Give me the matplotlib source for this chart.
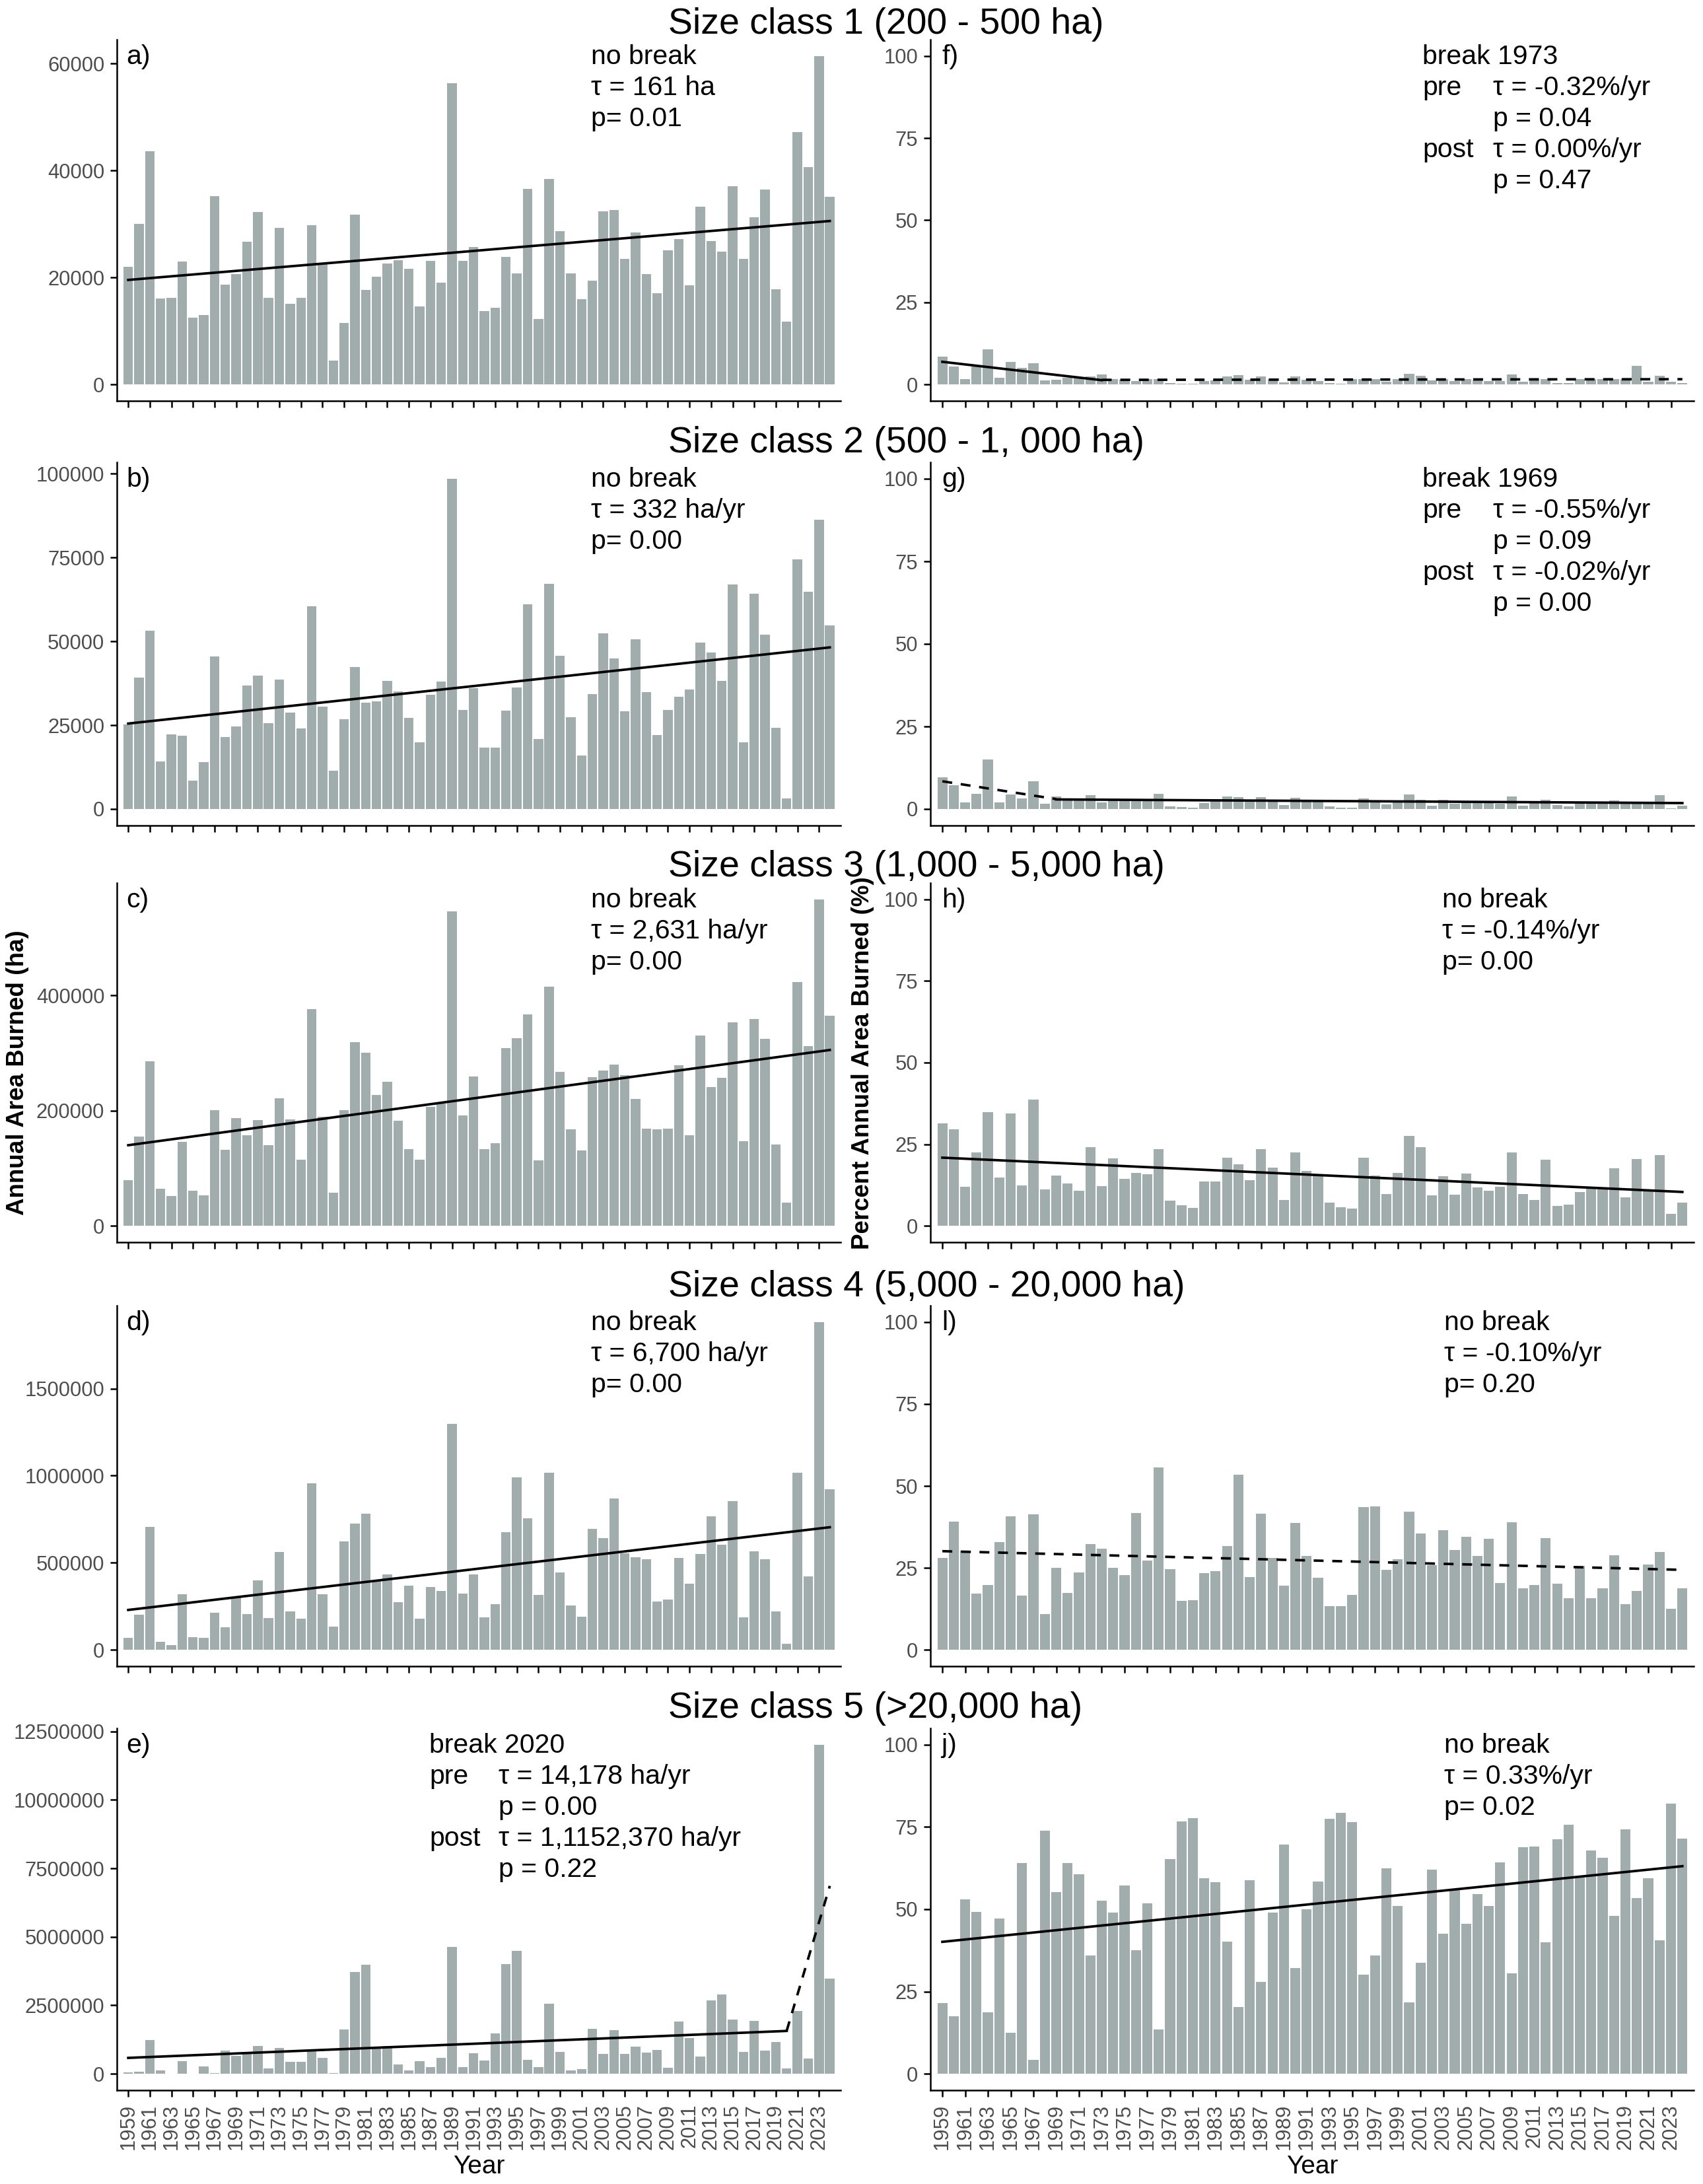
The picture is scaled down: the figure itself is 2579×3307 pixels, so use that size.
import matplotlib
matplotlib.use("Agg")
import matplotlib.pyplot as plt

plt.rcParams["font.family"] = ["Liberation Sans", "DejaVu Sans"]

W, H = 2579, 3307

years = list(range(1959, 2025))
tick_years = list(range(1959, 2024, 2))

# annual area burned (ha), one list per size class, 1959-2024
area_sc1 = [22000, 30000, 43600, 16100, 16200, 23000, 12500, 13000, 35200, 18600,
            20600, 26700, 32200, 16200, 29300, 15100, 16200, 29800, 22500, 4500,
            11500, 31700, 17700, 20200, 22600, 23200, 21600, 14600, 23100, 19000,
            56300, 23100, 25700, 13700, 14400, 23800, 20700, 36600, 12200, 38400,
            28700, 20700, 15900, 19400, 32400, 32600, 23500, 28400, 20600, 17000,
            25100, 27200, 18500, 33200, 26800, 24800, 37000, 23500, 31300, 36400,
            17800, 11800, 47200, 40700, 61400, 35100]
area_sc2 = [25200, 39300, 53200, 14100, 22200, 21800, 8400, 13900, 45500, 21400,
            24700, 36900, 39800, 25600, 38600, 28800, 24000, 60500, 30500, 11500,
            26800, 42300, 31700, 32200, 38200, 35100, 27200, 19900, 34000, 38100,
            98500, 29600, 36000, 18300, 18300, 29400, 36300, 61000, 20800, 67100,
            45700, 27400, 15900, 34300, 52400, 45000, 29100, 50700, 34800, 22000,
            29500, 33500, 35600, 49700, 46600, 38300, 66900, 19800, 64300, 52100,
            24300, 3200, 74500, 64900, 86300, 54700]
area_sc3 = [79300, 155400, 285600, 64900, 51300, 146100, 61600, 52700, 201100, 132100,
            187100, 157700, 183400, 140500, 221700, 184300, 115300, 376600, 189000, 57400,
            201100, 318300, 300500, 227300, 250600, 182000, 133000, 115300, 206700, 212000,
            545100, 191300, 259000, 133500, 143300, 308000, 325300, 367300, 113400, 415400,
            267400, 167100, 130700, 257600, 269700, 279500, 262000, 219800, 168500, 168000,
            168500, 279100, 157700, 330000, 240800, 257100, 352800, 147500, 359400, 324400,
            141400, 40100, 423300, 312200, 566600, 364500]
area_sc4 = [68000, 203000, 705000, 46500, 26000, 319000, 71000, 68000, 214000, 129000,
            302000, 206000, 400000, 183000, 560000, 220000, 178000, 955000, 319000, 135000,
            623000, 724000, 783000, 400000, 434000, 274000, 370000, 178000, 360000, 338000,
            1299000, 324000, 434000, 186000, 262000, 676000, 989000, 755000, 315000, 1015000,
            446000, 254000, 192000, 693000, 642000, 870000, 553000, 530000, 522000, 279000,
            287000, 527000, 378000, 550000, 767000, 604000, 852000, 186000, 567000, 522000,
            220000, 34000, 1018000, 422000, 1882000, 921000]
area_sc5 = [40000, 70000, 1232000, 130000, 10000, 450000, 10000, 260000, 20000, 853000,
            652000, 780000, 1019000, 190000, 936000, 427000, 427000, 830000, 581000, 20000,
            1623000, 3708000, 3993000, 950000, 1019000, 332000, 130000, 450000, 237000, 569000,
            4632000, 249000, 746000, 486000, 1481000, 4016000, 4490000, 509000, 249000, 2559000,
            806000, 130000, 178000, 1647000, 735000, 1588000, 723000, 995000, 782000, 865000,
            213000, 1908000, 1315000, 628000, 2690000, 2891000, 1979000, 794000, 1943000, 853000,
            1149000, 190000, 2299000, 557000, 12014000, 3483000]

# percent of annual area burned (%)
pct_sc1 = [8.4, 5.5, 1.6, 5.5, 10.7, 2.0, 6.8, 5.1, 6.5, 1.3,
           1.5, 2.0, 2.0, 2.5, 3.0, 1.6, 1.4, 1.0, 1.6, 1.6,
           0.5, 0.3, 0.2, 1.0, 1.2, 2.4, 2.8, 1.4, 2.4, 1.6,
           0.7, 2.5, 1.4, 1.1, 0.5, 0.3, 1.6, 1.6, 1.6, 0.8,
           1.6, 3.2, 2.6, 1.3, 1.6, 1.0, 1.6, 1.3, 1.0, 1.0,
           3.0, 0.9, 1.6, 1.6, 0.5, 0.4, 1.6, 1.6, 1.6, 1.6,
           1.6, 5.7, 0.8, 2.6, 0.9, 0.4]
pct_sc2 = [9.7, 7.3, 2.0, 4.7, 15.1, 2.0, 4.5, 3.3, 8.4, 1.7,
           3.9, 3.0, 2.8, 4.2, 2.0, 2.8, 2.6, 2.6, 2.6, 4.6,
           0.8, 0.7, 0.4, 1.8, 2.4, 3.9, 3.7, 2.4, 3.7, 2.8,
           1.2, 3.4, 2.4, 2.2, 0.8, 0.4, 0.5, 3.2, 2.6, 1.5,
           2.4, 4.4, 2.8, 1.1, 2.8, 1.6, 2.2, 2.4, 2.2, 1.6,
           3.9, 1.0, 1.8, 2.9, 1.2, 0.9, 1.8, 1.8, 1.8, 2.7,
           1.8, 1.6, 1.8, 4.3, 0.3, 1.0]
pct_sc3 = [31.4, 29.6, 11.9, 22.5, 34.9, 14.9, 34.4, 12.4, 38.6, 11.2,
           15.4, 13.0, 10.7, 24.2, 12.2, 20.6, 14.4, 16.3, 15.9, 23.6,
           7.8, 6.4, 5.6, 13.6, 13.7, 20.8, 18.8, 14.0, 23.5, 17.8,
           7.9, 22.5, 16.9, 15.9, 7.2, 5.8, 5.4, 20.8, 15.4, 9.8,
           16.3, 27.5, 24.2, 9.4, 15.2, 9.6, 16.0, 11.8, 10.8, 12.0,
           22.5, 9.7, 8.0, 20.3, 6.1, 6.5, 10.4, 11.8, 11.8, 17.7,
           8.7, 20.5, 11.0, 21.7, 3.6, 7.2]
pct_sc4 = [28.0, 39.2, 30.2, 17.2, 19.7, 32.9, 40.7, 16.6, 41.4, 11.0,
           25.1, 17.3, 23.7, 32.2, 30.9, 25.0, 22.8, 41.7, 27.3, 55.7,
           24.7, 14.9, 15.1, 23.4, 24.0, 31.7, 53.4, 22.2, 41.5, 28.1,
           19.5, 38.7, 28.6, 22.0, 13.4, 13.4, 16.7, 43.5, 43.7, 24.5,
           27.6, 42.1, 35.5, 25.9, 36.6, 30.5, 34.4, 28.6, 33.9, 20.3,
           38.9, 18.8, 19.7, 34.0, 20.2, 15.7, 25.6, 15.7, 18.8, 28.8,
           14.0, 17.9, 26.1, 29.8, 12.6, 18.8]
pct_sc5 = [21.5, 17.5, 53.1, 49.2, 18.6, 47.1, 12.5, 64.0, 4.2, 73.9,
           55.2, 64.0, 60.7, 35.9, 52.6, 48.9, 57.2, 37.6, 51.9, 13.5,
           65.3, 76.6, 77.8, 59.5, 58.3, 40.1, 20.2, 58.9, 27.9, 48.9,
           69.7, 32.2, 49.9, 58.4, 77.4, 79.3, 76.4, 30.1, 36.0, 62.4,
           51.0, 21.7, 33.8, 62.1, 42.6, 56.2, 45.6, 54.7, 51.1, 64.2,
           30.5, 68.9, 69.0, 40.0, 71.2, 75.6, 60.0, 67.9, 65.6, 47.9,
           74.2, 53.4, 59.5, 40.5, 82.2, 71.5]

titles = ["Size class 1 (200 - 500 ha)", "Size class 2 (500 - 1, 000 ha)",
          "Size class 3 (1,000 - 5,000 ha)", "Size class 4 (5,000 - 20,000 ha)",
          "Size class 5 (>20,000 ha)"]

area_yticks = [[0, 20000, 40000, 60000],
               [0, 25000, 50000, 75000, 100000],
               [0, 200000, 400000],
               [0, 500000, 1000000, 1500000],
               [0, 2500000, 5000000, 7500000, 10000000, 12500000]]
pct_yticks = [0, 25, 50, 75, 100]

# trend segments (x0, y0, x1, y1, linestyle)
area_trends = [
    [(1959, 19540, 2024, 30560, "-")],
    [(1959, 25490, 2024, 48210, "-")],
    [(1959, 140000, 2024, 305200, "-")],
    [(1959, 229000, 2024, 704000, "-")],
    [(1959, 580000, 2020, 1564000, "-"), (2020, 1564000, 2024, 6860000, "--")],
]
pct_trends = [
    [(1959, 6.9, 1973, 1.3, "-"), (1973, 1.4, 2024, 1.6, "--")],
    [(1959, 8.4, 1969, 3.0, "--"), (1969, 2.9, 2024, 1.8, "-")],
    [(1959, 20.9, 2024, 10.4, "-")],
    [(1959, 30.1, 2024, 24.4, "--")],
    [(1959, 40.1, 2024, 63.1, "-")],
]

area_notes = [
    [["no break", "τ = 161 ha", "p= 0.01"]],
    [["no break", "τ = 332 ha/yr", "p= 0.00"]],
    [["no break", "τ = 2,631 ha/yr", "p= 0.00"]],
    [["no break", "τ = 6,700 ha/yr", "p= 0.00"]],
    [["break 2020", "pre", "", "post", ""],
     ["", "τ = 14,178 ha/yr", "p = 0.00", "τ = 1,1152,370 ha/yr", "p = 0.22"]],
]
pct_notes = [
    [["break 1973", "pre", "", "post", ""],
     ["", "τ = -0.32%/yr", "p = 0.04", "τ = 0.00%/yr", "p = 0.47"]],
    [["break 1969", "pre", "", "post", ""],
     ["", "τ = -0.55%/yr", "p = 0.09", "τ = -0.02%/yr", "p = 0.00"]],
    [["no break", "τ = -0.14%/yr", "p= 0.00"]],
    [["no break", "τ = -0.10%/yr", "p= 0.20"]],
    [["no break", "τ = 0.33%/yr", "p= 0.02"]],
]
area_letters = ["a)", "b)", "c)", "d)", "e)"]
pct_letters = ["f)", "g)", "h)", "l)", "j)"]

# layout in pixels
row_top = [60, 700, 1337, 1977, 2617]
row_bot = [607, 1250, 1881, 2523, 3165]
col_x = [(177, 1273), (1409, 2565)]
area_note_x = [[895], [895], [895], [895], [650, 755]]
pct_note_x = [[2154, 2261], [2154, 2261], [2184], [2187], [2187]]
letter_x = [191, 1426]
title_base = [51, 685, 1327, 1963, 2601]

BAR = "#A0ADAC"
TICKC = "#4D4D4D"
NOTE_FS = 29.5
LINE_STEP = 47


def ftext(x, y, s, **kw):
    fig.text(x / W, 1 - y / H, s, **kw)


def draw_panel(col, row, values, yticks, ylim, trends, notes, note_x, letter):
    l, r = col_x[col]
    t, b = row_top[row], row_bot[row]
    ax = fig.add_axes([l / W, 1 - b / H, (r - l) / W, (b - t) / H])
    ax.bar(years, values, width=0.88, color=BAR, edgecolor="none")
    for x0, y0, x1, y1, ls in trends:
        if ls == "--":
            ax.plot([x0, x1], [y0, y1], color="black", lw=2.7,
                    linestyle=(0, (4, 3.5)), solid_capstyle="butt")
        else:
            ax.plot([x0, x1], [y0, y1], color="black", lw=2.7)
    ax.set_xlim(1957.95, 2025.0)
    ax.set_ylim(*ylim)
    ax.set_yticks(yticks)
    ax.set_yticklabels([str(v) for v in yticks])
    ax.set_xticks(tick_years)
    if row == 4:
        ax.set_xticklabels([str(v) for v in tick_years], rotation=90)
    else:
        ax.set_xticklabels([])
    for side in ["top", "right"]:
        ax.spines[side].set_visible(False)
    for side in ["left", "bottom"]:
        ax.spines[side].set_linewidth(1.8)
    ax.tick_params(axis="both", width=1.8, length=7, color="black",
                   labelsize=22.3, labelcolor=TICKC)
    ax.tick_params(axis="y", pad=6.5)
    ax.tick_params(axis="x", pad=8)
    # panel letter and annotation lines
    ftext(letter_x[col], t + 37, letter, fontsize=NOTE_FS, va="baseline", ha="left")
    for xs, lines in zip(note_x, notes):
        for i, line in enumerate(lines):
            if line:
                ftext(xs, t + 37 + i * LINE_STEP, line, fontsize=NOTE_FS,
                      va="baseline", ha="left")
    return ax


fig = plt.figure(figsize=(W / 100, H / 100), dpi=100)

area_series = [area_sc1, area_sc2, area_sc3, area_sc4, area_sc5]
pct_series = [pct_sc1, pct_sc2, pct_sc3, pct_sc4, pct_sc5]

for i in range(5):
    top = max(area_series[i])
    draw_panel(0, i, area_series[i], area_yticks[i], (-0.05 * top, 1.05 * top),
               area_trends[i], area_notes[i], area_note_x[i], area_letters[i])
    draw_panel(1, i, pct_series[i], pct_yticks, (-5, 105),
               pct_trends[i], pct_notes[i], pct_note_x[i], pct_letters[i])
    ftext(1012, title_base[i], titles[i], fontsize=40, ha="left", va="baseline")

ftext(27, 1624, "Annual Area Burned (ha)", fontsize=26.5, fontweight="bold",
      rotation=90, ha="center", va="center")
ftext(1307, 1610, "Percent Annual Area Burned (%)", fontsize=26.5, fontweight="bold",
      rotation=90, ha="center", va="center")
ftext(725, 3291, "Year", fontsize=28, ha="center", va="baseline")
ftext(1987, 3291, "Year", fontsize=28, ha="center", va="baseline")

fig.savefig("out.png", dpi=100)
